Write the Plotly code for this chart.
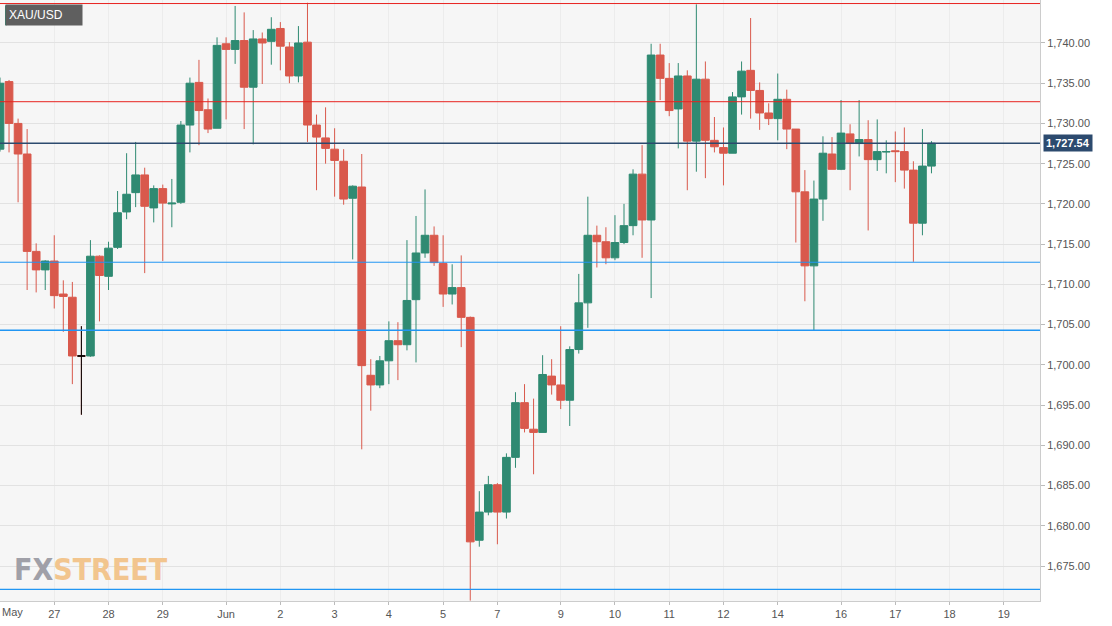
import plotly.graph_objects as go

opens = [1726.8,1735.2,1730.0,1726.2,1714.1,1711.8,1712.9,1708.8,1708.4,1701.1,
 1701.1,1713.5,1711.0,1714.6,1719.0,1721.4,1723.6,1719.5,1721.9,1720.0,
 1720.2,1729.8,1735.1,1731.7,1729.4,1739.9,1739.2,1740.3,1734.5,1740.5,
 1740.2,1741.8,1739.5,1735.9,1740.1,1729.8,1728.2,1726.8,1725.3,1720.7,
 1722.1,1698.7,1697.5,1700.5,1703.0,1702.5,1708.1,1713.9,1716.1,1712.6,
 1708.8,1709.6,1705.9,1678.2,1681.7,1685.1,1681.7,1688.5,1695.3,1692.0,
 1691.6,1698.6,1697.5,1695.6,1701.9,1707.7,1716.1,1715.3,1713.3,1715.2,
 1717.3,1723.7,1718.0,1738.5,1735.6,1731.8,1735.9,1727.8,1735.5,1727.9,
 1727.0,1726.3,1733.3,1736.6,1734.1,1731.3,1730.6,1733.0,1729.3,1721.5,
 1712.3,1720.6,1726.2,1724.3,1728.7,1727.5,1728.0,1725.5,1726.45,1726.6,
 1726.5,1724.2,1717.6,1724.7]
closes = [1735.0,1730.0,1726.2,1714.1,1711.8,1712.9,1708.6,1708.5,1701.1,1701.1,
 1713.5,1711.1,1714.5,1718.9,1721.2,1723.6,1719.7,1721.9,1720.1,1720.1,
 1729.8,1735.0,1731.6,1729.3,1739.7,1739.2,1740.3,1734.5,1740.5,1740.0,
 1741.7,1739.6,1735.9,1740.0,1729.8,1728.3,1726.9,1725.4,1720.6,1722.2,
 1699.9,1697.5,1700.5,1703.0,1702.5,1708.0,1713.9,1716.1,1712.7,1708.8,
 1709.6,1705.9,1678.0,1681.7,1685.1,1681.7,1688.5,1695.3,1692.1,1691.6,
 1698.8,1697.5,1695.6,1701.9,1707.7,1716.1,1715.3,1713.3,1715.2,1717.3,
 1723.7,1718.0,1738.5,1735.6,1731.6,1735.9,1727.8,1735.5,1727.9,1727.1,
 1726.3,1733.3,1736.5,1734.1,1731.3,1730.6,1733.0,1729.3,1721.5,1712.3,
 1720.6,1726.3,1724.3,1728.8,1727.5,1728.0,1725.5,1726.5,1726.5,1726.5,
 1724.2,1717.6,1724.7,1727.54]
highs = [1735.7,1735.4,1730.6,1729.3,1715.1,1713.0,1716.1,1710.5,1710.3,1704.8,
 1715.5,1713.6,1715.3,1721.6,1726.3,1727.7,1724.5,1722.3,1722.4,1723.1,
 1730.3,1735.7,1737.9,1733.1,1740.7,1740.7,1744.6,1743.8,1741.6,1741.3,
 1743.2,1742.6,1740.1,1742.1,1745.0,1731.1,1732.0,1729.4,1726.8,1722.3,
 1726.2,1700.7,1701.1,1705.4,1705.3,1715.5,1718.5,1721.8,1717.2,1716.1,
 1712.5,1713.6,1706.0,1684.3,1686.2,1685.3,1689.0,1696.6,1697.6,1695.8,
 1701.2,1700.7,1704.8,1702.3,1711.3,1720.9,1717.3,1717.1,1718.6,1720.0,
 1724.3,1727.3,1739.9,1739.9,1737.5,1737.5,1736.6,1744.8,1737.7,1730.8,
 1729.5,1733.9,1737.7,1743.1,1735.1,1732.5,1736.2,1734.2,1729.3,1724.2,
 1722.9,1728.4,1728.3,1732.9,1729.9,1732.9,1730.4,1730.5,1727.9,1729.0,
 1729.5,1725.3,1729.3,1727.8]
lows = [1726.5,1726.4,1720.2,1709.3,1709.0,1709.3,1707.0,1704.1,1697.6,1693.8,
 1701.0,1705.4,1709.3,1714.4,1718.1,1719.6,1711.4,1717.7,1712.9,1717.1,
 1720.0,1726.4,1727.3,1728.8,1729.4,1730.5,1737.4,1729.3,1727.4,1734.9,
 1737.3,1736.6,1735.0,1735.1,1727.7,1721.7,1725.0,1720.9,1719.9,1713.1,
 1689.5,1694.3,1697.1,1697.6,1698.1,1701.8,1700.3,1713.3,1712.3,1707.2,
 1707.5,1702.2,1670.7,1677.4,1681.3,1677.7,1680.9,1687.2,1691.6,1686.4,
 1691.6,1696.3,1694.5,1692.4,1701.4,1704.6,1712.1,1712.5,1713.0,1715.0,
 1716.1,1713.3,1708.3,1732.9,1730.9,1726.9,1721.7,1724.0,1723.2,1726.4,
 1722.3,1726.3,1731.1,1730.6,1729.2,1729.8,1727.9,1726.8,1715.2,1707.9,
 1704.3,1717.9,1724.3,1724.2,1721.7,1725.9,1716.7,1724.1,1723.8,1722.7,
 1721.9,1712.8,1716.1,1723.8]

tick_pos = [6,12,18,25,31,37,43,49,55,62,68,74,80,86,93,99,105,111]
tick_text = ["27","28","29","Jun","2","3","4","5","7","9","10","11","12","14","16","17","18","19"]
first_label = "May"
y_ticks = [1675,1680,1685,1690,1695,1700,1705,1710,1715,1720,1725,1730,1735,1740]
levels = [(1744.9,"#e8231f",1),(1732.7,"#e8231f",1),(1727.54,"#2c4a6e",1.3),
          (1712.75,"#2196f3",1),(1704.3,"#2196f3",1.3),(1672.1,"#2196f3",1.3)]
doji_idx = 9
last_price = 1727.54

GREEN = "#2f8a72"
RED = "#d9594c"
x = list(range(len(opens)))

fig = go.Figure()
fig.add_trace(go.Candlestick(
    x=x, open=opens, high=highs, low=lows, close=closes,
    increasing=dict(line=dict(color=GREEN, width=1), fillcolor=GREEN),
    decreasing=dict(line=dict(color=RED, width=1), fillcolor=RED),
    whiskerwidth=0, showlegend=False, hoverinfo="skip"))
fig.add_trace(go.Candlestick(
    x=[doji_idx], open=[opens[doji_idx]], high=[highs[doji_idx]],
    low=[lows[doji_idx]], close=[closes[doji_idx]],
    increasing=dict(line=dict(color="black", width=1), fillcolor="black"),
    decreasing=dict(line=dict(color="black", width=1), fillcolor="black"),
    whiskerwidth=0, showlegend=False, hoverinfo="skip"))

for v, c, w in levels:
    fig.add_shape(type="line", xref="paper", x0=0, x1=1, y0=v, y1=v,
                  line=dict(color=c, width=w), layer="above")

fig.add_annotation(xref="paper", yref="paper", x=0.005, y=0.993, xanchor="left", yanchor="top",
                   text="XAU/USD", showarrow=False, bgcolor="#5f5f5f",
                   font=dict(color="white", size=12, family="Arial, Liberation Sans"),
                   borderpad=3, width=70, align="left")
fig.add_shape(type="rect", xref="paper", yref="paper", x0=0.0048, x1=0.0068, y0=0.958, y1=0.991,
              fillcolor=GREEN, line=dict(width=0))
fig.add_annotation(xref="paper", yref="paper", x=0.012, y=0.02, xanchor="left", yanchor="bottom",
                   text="<b><span style='color:#a0a0a8'>FX</span><span style='color:#f2c58e'>STREET</span></b>",
                   showarrow=False, font=dict(size=30, family="Liberation Sans Narrow, DejaVu Sans Condensed, Roboto"))
fig.add_annotation(xref="paper", yref="y", x=1.003, y=last_price, xanchor="left",
                   text="<b>1,727.54</b>", showarrow=False, bgcolor="#2c4a6e",
                   font=dict(color="white", size=11, family="Arial, Liberation Sans"), borderpad=2)
fig.add_annotation(xref="paper", yref="paper", x=0, y=0, xanchor="left", yanchor="top", yshift=-3,
                   text=first_label, showarrow=False,
                   font=dict(size=11, color="#555", family="Arial, Liberation Sans"))

fig.update_layout(
    width=1112, height=626, margin=dict(l=0, r=72, t=0, b=25, autoexpand=False),
    paper_bgcolor="white", plot_bgcolor="#f6f6f6", boxgap=0.15, boxgroupgap=0,
    xaxis=dict(range=[0, 115], rangeslider=dict(visible=False), tickmode="array",
               tickvals=tick_pos, ticktext=tick_text, showgrid=True, gridcolor="#ececec",
               ticks="outside", ticklen=3, tickcolor="#bbb", showline=True, linecolor="#ccc",
               automargin=False,
               tickfont=dict(size=11, color="#555", family="Arial, Liberation Sans"), zeroline=False),
    yaxis=dict(range=[1670.65, 1745.34], side="right", tickmode="array", tickvals=y_ticks,
               tickformat=",.2f", showgrid=True, gridcolor="#e2e2e2", ticks="outside",
               ticklen=4, tickcolor="#bbb", showline=True, linecolor="#ccc", automargin=False,
               tickfont=dict(size=11, color="#555", family="Arial, Liberation Sans"), zeroline=False),
)
fig.write_html("out.html", config={"displayModeBar": False},
               post_script="document.body.style.margin='0';")
